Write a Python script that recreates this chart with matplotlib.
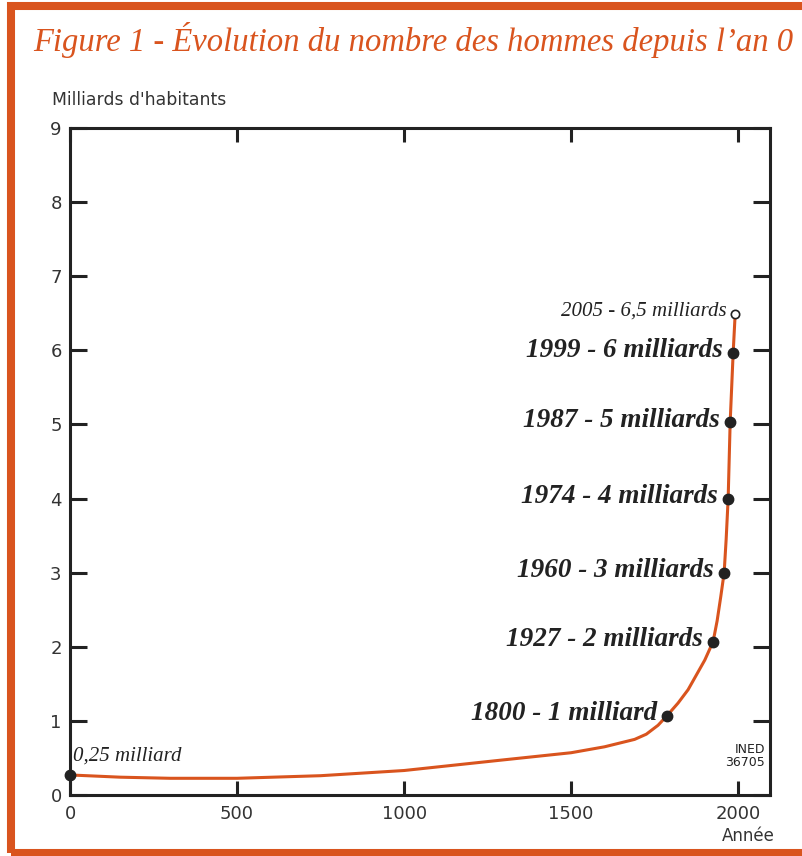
import matplotlib
matplotlib.use("Agg")
import matplotlib.pyplot as plt
from matplotlib.patches import Rectangle

# values (years, billions)
years = [0, 150, 300, 500, 750, 1000, 1290, 1500, 1600, 1690, 1725, 1760, 1787,
         1820, 1850, 1875, 1900, 1925, 1937, 1948, 1958, 1964, 1970, 1976, 1985, 1991]
pop = [0.27, 0.24, 0.225, 0.225, 0.26, 0.33, 0.47, 0.57, 0.65, 0.75, 0.82, 0.94, 1.07,
       1.24, 1.42, 1.62, 1.82, 2.07, 2.35, 2.68, 3.0, 3.45, 4.0, 5.03, 5.97, 6.49]

# milestones
mark_years = [1787, 1925, 1958, 1970, 1976, 1985]
mark_pop = [1.07, 2.07, 3.0, 4.0, 5.03, 5.97]
mark_labels = ["1800 - 1 milliard", "1927 - 2 milliards", "1960 - 3 milliards",
               "1974 - 4 milliards", "1987 - 5 milliards", "1999 - 6 milliards"]

start_year, start_pop = 0, 0.27
start_label = "0,25 milliard"
last_year, last_pop = 1991, 6.49
last_label = "2005 - 6,5 milliards"

x_ticks = [0, 500, 1000, 1500, 2000]
y_ticks = list(range(10))

orange = "#D9541E"
dark = "#222222"

fig = plt.figure(figsize=(8.02, 8.56), dpi=100)
ax = fig.add_axes([0.0873, 0.0713, 0.8727, 0.7792])

# orange frame round the figure
fig.patches.append(Rectangle((0.0137, 0.0035), 1.0025, 0.9895, transform=fig.transFigure,
                             fill=False, edgecolor=orange, linewidth=5.8, clip_on=False))

fig.text(33 / 802, 1 - 51 / 856, "Figure 1 - Évolution du nombre des hommes depuis l\u2019an 0",
         color=orange, fontsize=23.5, family="Liberation Serif", style="italic",
         ha="left", va="baseline")

ax.plot(years, pop, color=orange, lw=2.2, zorder=2)
ax.plot(mark_years, mark_pop, "o", color=dark, ms=7.5, zorder=3)
ax.plot([start_year], [start_pop], "o", color=dark, ms=7.5, zorder=3, clip_on=False)
ax.plot([last_year], [last_pop], "o", mfc="white", mec=dark, mew=1.2, ms=6, zorder=3)

for x, y, s in zip(mark_years, mark_pop, mark_labels):
    ax.annotate(s, (x, y), xytext=(-10, 2), textcoords="offset pixels",
                ha="right", va="center", fontsize=19.5, family="Liberation Serif",
                style="italic", weight="bold", color=dark)

ax.annotate(last_label, (last_year, last_pop), xytext=(-9, 3), textcoords="offset pixels",
            ha="right", va="center", fontsize=15, family="Liberation Serif",
            style="italic", color=dark)
ax.annotate(start_label, (start_year, start_pop), xytext=(3, 19), textcoords="offset pixels",
            ha="left", va="center", fontsize=15, family="Liberation Serif",
            style="italic", color=dark)

ax.set_xlim(0, 2095)
ax.set_ylim(0, 9)
ax.set_xticks(x_ticks)
ax.set_yticks(y_ticks)

for s in ax.spines.values():
    s.set_linewidth(2.2)
    s.set_color(dark)

ax.tick_params(axis="x", direction="in", length=10, width=2.2, color=dark,
               top=True, labelsize=13, labelcolor="#333333", pad=7)
ax.tick_params(axis="y", direction="in", length=12.5, width=2.2, color=dark,
               right=True, labelsize=13, labelcolor="#333333", pad=6)

ax.text(-0.0257, 1.042, "Milliards d'habitants", transform=ax.transAxes,
        ha="left", va="center", fontsize=12.4, color="#333333")
ax.text(1.007, -0.0615, "Année", transform=ax.transAxes,
        ha="right", va="center", fontsize=12, color="#333333")
ax.text(0.993, 0.058, "INED\n36705", transform=ax.transAxes, ha="right", va="center",
        fontsize=9, color=dark, linespacing=1.0)

fig.savefig("out.png", dpi=100)
